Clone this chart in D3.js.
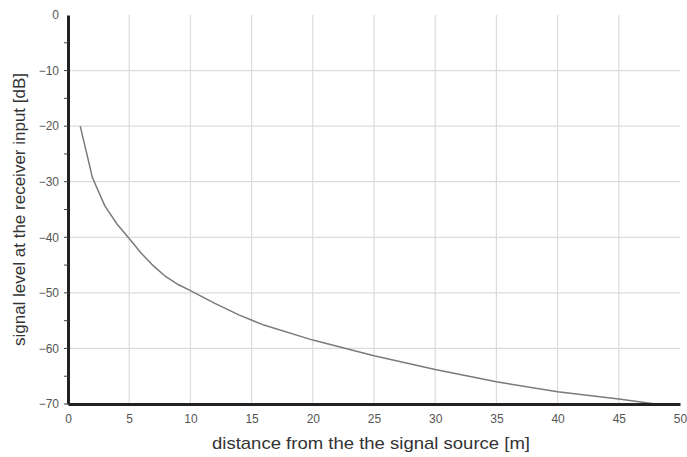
<!DOCTYPE html>
<html lang="en">
<head>
    <meta charset="UTF-8">
    <title>Signal level vs distance</title>
    <style>
        body { margin: 0; background: #fff; }
        svg { display: block; font-family: 'Liberation Sans', Arial, sans-serif; }
        .grid line { stroke: #dcdcdc; stroke-width: 1.2px; }
        .tick text { fill: #555; font-size: 12px; }
        .axis-title { fill: #333; font-size: 17px; }
    </style>
</head>
<body>
<svg width="687" height="457"></svg>
<script src="https://d3js.org/d3.v7.min.js"></script>
<script>
    // distance [m] and signal level [dB]
    const distance = [1, 2, 3, 4, 5, 6, 7, 8, 9, 10, 12, 14, 16, 20, 25, 30, 35, 40, 45, 48];
    const level = [-20, -29.3, -34.3, -37.6, -40.2, -42.9, -45.2, -47.1, -48.5, -49.6, -51.9, -54, -55.8, -58.5, -61.3, -63.8, -66, -67.8, -69.1, -70];
    const xTicks = [0, 5, 10, 15, 20, 25, 30, 35, 40, 45, 50];
    const yTicks = [0, -10, -20, -30, -40, -50, -60, -70];

    const margin = { left: 68, right: 7, top: 15, bottom: 53 };
    const width = 687, height = 457;

    const svg = d3.select("svg");

    const x = d3.scaleLinear().domain([0, 50]).range([margin.left, width - margin.right]);
    const y = d3.scaleLinear().domain([-70, 0]).range([height - margin.bottom, margin.top]);

    // grid
    const grid = svg.append("g").attr("class", "grid");
    grid.selectAll(".v").data(xTicks.filter(d => d > 0 && d < 50)).enter().append("line")
        .attr("x1", d => x(d)).attr("x2", d => x(d))
        .attr("y1", y(0)).attr("y2", y(-70));
    grid.selectAll(".h").data(yTicks.filter(d => d > -70 && d < 0)).enter().append("line")
        .attr("x1", x(0)).attr("x2", x(50))
        .attr("y1", d => y(d)).attr("y2", d => y(d));

    // curve
    const line = d3.line().x((d, i) => x(distance[i])).y(d => y(d));
    svg.append("path")
        .datum(level)
        .attr("d", line)
        .attr("fill", "none")
        .attr("stroke", "#7a7a7a")
        .attr("stroke-width", 1.5);

    // axes
    const xAxis = svg.append("g")
        .attr("transform", `translate(0,${y(-70)})`)
        .call(d3.axisBottom(x).tickValues(xTicks).tickSize(0).tickPadding(10));
    xAxis.select(".domain").attr("stroke", "#222").attr("stroke-width", 3);
    xAxis.selectAll(".tick text").attr("font-size", 13);

    const yAxis = svg.append("g")
        .attr("transform", `translate(${x(0)},0)`)
        .call(d3.axisLeft(y).tickValues(yTicks).tickSize(0).tickPadding(9));
    yAxis.select(".domain").attr("stroke", "#222").attr("stroke-width", 3);

    // small ticks on the y axis
    svg.append("g").selectAll("line")
        .data(d3.range(-70, 0, 5))
        .enter().append("line")
        .attr("x1", x(0) - 4).attr("x2", x(0))
        .attr("y1", d => y(d)).attr("y2", d => y(d))
        .attr("stroke", "#444").attr("stroke-width", 1);

    // titles (the picture is a little stretched sideways, hence textLength)
    svg.append("text")
        .attr("class", "axis-title")
        .attr("x", 212)
        .attr("y", 449)
        .attr("font-size", 18)
        .attr("textLength", 318)
        .attr("lengthAdjust", "spacingAndGlyphs")
        .text("distance from the the signal source [m]");

    svg.append("text")
        .attr("class", "axis-title")
        .attr("transform", `translate(25,${(y(0) + y(-70)) / 2}) rotate(-90)`)
        .attr("text-anchor", "middle")
        .text("signal level at the receiver input [dB]");
</script>
</body>
</html>
